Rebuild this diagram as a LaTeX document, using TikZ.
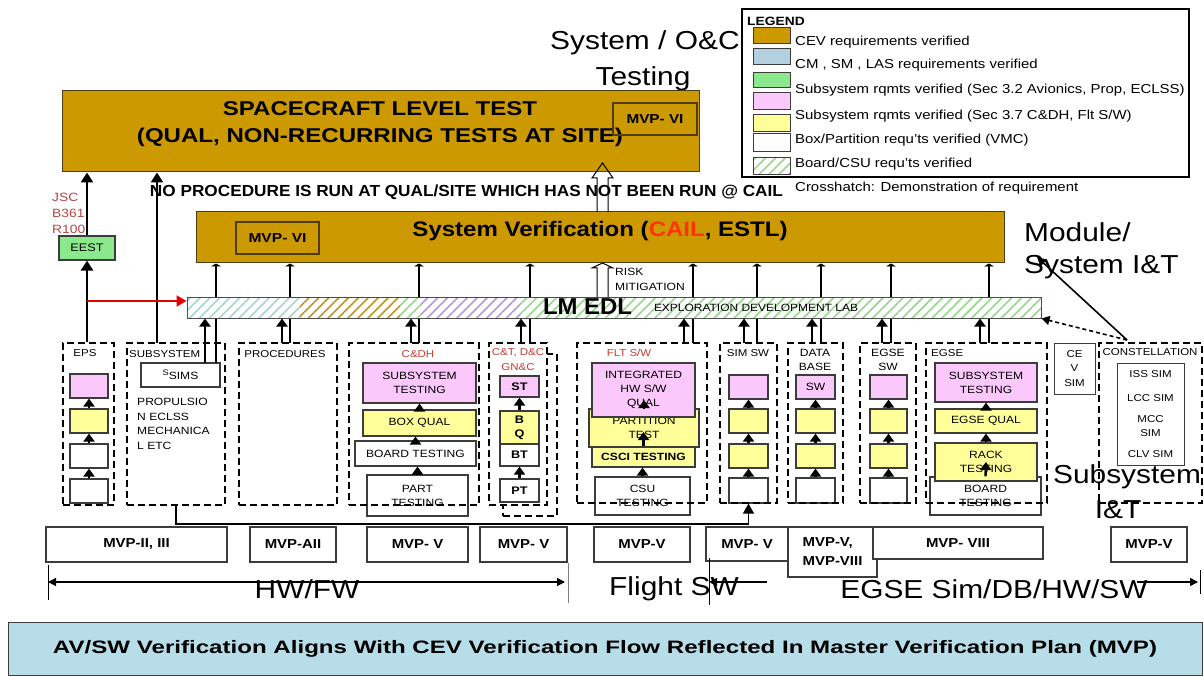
\documentclass[tikz,border=0pt]{standalone}
\usepackage{fontspec}
\setmainfont{Liberation Sans}[FakeStretch=1.15]
\usepackage{graphicx}
\usetikzlibrary{arrows.meta,patterns.meta}
\definecolor{gold}{RGB}{204,153,0}
\definecolor{goldedge}{RGB}{80,60,20}
\definecolor{lgblue}{RGB}{178,208,224}
\definecolor{lggreen}{RGB}{140,232,140}
\definecolor{pinkb}{RGB}{250,200,250}
\definecolor{yellb}{RGB}{255,255,153}
\definecolor{bandc}{RGB}{183,222,232}
\definecolor{redtxt}{RGB}{200,60,50}
\definecolor{cailred}{RGB}{255,51,0}
\definecolor{jscred}{RGB}{180,70,70}
\definecolor{hgreen}{RGB}{150,215,140}
\definecolor{hteal}{RGB}{165,215,200}
\definecolor{hgold}{RGB}{190,150,40}
\definecolor{hpurple}{RGB}{180,150,225}
\definecolor{edge}{RGB}{60,60,60}
\newcommand\fsz[1]{\fontsize{#1}{#1}\selectfont}
\newcommand\fsb[2]{\fontsize{#1}{#2}\selectfont}
\newcommand\fitw[2]{\resizebox{#1}{\height}{#2}}
\newcommand\bxn[6][]{\node[#1,minimum width={(#5-#3)*1pt},minimum height={(#6-#4)*1pt}] (#2) at ({(#3+#5)/2},{(#4+#6)/2})}
\tikzset{
 bx/.style={draw=edge,line width=1.2pt,inner sep=1pt,align=center,font=\fsb{10.5}{14}},
 pk/.style={bx,fill=pinkb},
 yl/.style={bx,fill=yellb},
 wt/.style={bx,fill=white},
 dbox/.style={draw=black,line width=2.6pt,dash pattern=on 7pt off 4pt,inner sep=0pt},
 gbox/.style={draw=goldedge,line width=1pt,fill=gold,inner sep=0pt},
 mvpin/.style={draw=goldedge,line width=1.2pt,font=\bfseries\fsz{13},inner sep=0pt},
 ar/.style={line width=2.4pt,-{Triangle[length=8pt,width=11pt]}},
 arb/.style={line width=2.8pt,-{Triangle[length=10pt,width=12pt]}},
 tee/.style={line width=1.8pt,-{Triangle[length=3pt,width=10pt]}},
 lbl/.style={font=\fsz{10},inner sep=0pt},
 txt/.style={inner sep=0pt},
 big/.style={inner sep=0pt,font=\fsz{26}},
 sw/.style={draw=edge,line width=1pt,inner sep=0pt},
 lt/.style={anchor=west,inner sep=0pt,font=\fsz{13}},
 mvp/.style={draw=edge,line width=1.2pt,fill=white,font=\bfseries\fsz{13},inner sep=1pt,align=center},
 hol/.style={line width=1pt,draw=black},
 hatch/.style={pattern={Lines[angle=45,distance=7pt,line width=1.6pt]},pattern color=#1},
 botar/.style={line width=1.5pt},
}
\begin{document}
\begin{tikzpicture}[x=1pt,y=-1pt]
\useasboundingbox (0,0) rectangle (1204,676);
\fill[white] (0,0) rectangle (1204,676);

% ---- titles ----
\node[big,anchor=west] (ttl1) at (550,43) {System / O\&C};
\node[big] (ttl2) at (643,79) {Testing};

% ---- spacecraft level test ----
\bxn[gbox]{sc}{62}{91}{699}{172} {};
\node[txt,font=\bfseries\fsz{20},align=center] (sct) at (380,124) {\fitw{314pt}{SPACECRAFT LEVEL TEST}\\[7pt]\fitw{486pt}{(QUAL, NON-RECURRING TESTS AT SITE)}};
\bxn[mvpin]{mvpa}{613}{103}{697}{135} {\fitw{57pt}{MVP- VI}};

% ---- legend ----
\bxn[draw=black,line width=1.5pt,fill=white]{leg}{742}{9}{1189}{177} {};
\node[txt,font=\bfseries\fsz{12},anchor=west] (legT) at (747,21) {LEGEND};
\bxn[sw,fill=gold]{sw1}{753}{28}{790}{44} {};
\bxn[sw,fill=lgblue]{sw2}{753}{49}{790}{65} {};
\bxn[sw,fill=lggreen]{sw3}{753}{73}{790}{88} {};
\bxn[sw,fill=pinkb]{sw4}{753}{93}{790}{110} {};
\bxn[sw,fill=yellb]{sw5}{753}{115}{790}{132} {};
\bxn[sw,fill=white]{sw6}{753}{134}{790}{152} {};
\bxn[sw,hatch=hgreen]{sw7}{753}{158}{790}{175} {};
\node[lt] (l1) at (795,42) {CEV requirements verified};
\node[lt] (l2) at (795,65) {CM , SM , LAS requirements verified};
\node[lt] (l3) at (795,90) {Subsystem rqmts verified (Sec 3.2 Avionics, Prop, ECLSS)};
\node[lt] (l4) at (795,116) {Subsystem rqmts verified (Sec 3.7 C\&DH, Flt S/W)};
\node[lt] (l5) at (795,140) {Box/Partition requ'ts verified (VMC)};
\node[lt] (l6) at (795,164) {Board/CSU requ'ts verified};
\node[lt] (l7) at (795,188) {Crosshatch: Demonstration of requirement};

% ---- note ----
\node[txt,font=\bfseries\fsz{16}] (nop) at (466.5,192) {\fitw{633pt}{NO PROCEDURE IS RUN AT QUAL/SITE WHICH HAS NOT BEEN RUN @ CAIL}};

% ---- system verification ----
\bxn[gbox]{sv}{196}{212}{1004}{263} {};
\node[txt,font=\bfseries\fsz{21}] (svt) at (600,231) {\fitw{375pt}{System Verification (\textcolor{cailred}{CAIL}, ESTL)}};
\bxn[mvpin]{mvpb}{236}{222}{319}{254} {\fitw{58pt}{MVP- VI}};

% ---- JSC / EEST ----
\node[txt,font=\fsz{12},text=jscred,anchor=west] (jsc1) at (52,197) {JSC};
\node[txt,font=\fsz{12},text=jscred,anchor=west] (jsc2) at (52,213) {B361};
\node[txt,font=\fsz{12},text=jscred,anchor=west] (jsc3) at (52,229) {R100};
\bxn[bx,fill=lggreen,font=\fsz{11}]{eest}{59}{236}{115}{260} {EEST};

% ---- EPS ----
\bxn[pk]{e1}{70}{374}{108}{398} {};
\bxn[yl]{e2}{70}{409}{108}{433} {};
\bxn[wt]{e3}{70}{444}{108}{468} {};
\bxn[wt]{e4}{70}{479}{108}{503} {};
\bxn[dbox]{eps}{63}{343}{114}{505} {};
\node[lbl] (epsL) at (85,353) {EPS};
\draw[ar] (e4.north) -- (e3.south);
\draw[ar] (e3.north) -- (e2.south);
\draw[ar] (e2.north) -- (e1.south);

% ---- SUBSYSTEM ----
\bxn[wt]{sims}{141}{363}{220}{387} {\raisebox{4pt}{\fsz{8}S}SIMS};
\node[txt,anchor=west,align=left,font=\fsb{10.5}{14.7}] (prop) at (137,424) {PROPULSIO\\N ECLSS\\MECHANICA\\L ETC};
\bxn[dbox]{subs}{127}{343}{225}{505} {};
\node[lbl,anchor=west] (subsL) at (129,354) {SUBSYSTEM};

% ---- PROCEDURES ----
\bxn[dbox]{proc}{239}{343}{337}{505} {};
\node[lbl] (procL) at (285,354) {PROCEDURES};

% ---- C&DH ----
\bxn[pk]{c1}{363}{363}{476}{403} {SUBSYSTEM\\TESTING};
\bxn[yl]{c2}{363}{410}{476}{436} {BOX QUAL};
\bxn[wt]{c3}{355}{441}{476}{466} {BOARD TESTING};
\bxn[wt]{c4}{367}{475}{468}{516} {PART\\TESTING};
\bxn[dbox]{cdh}{349}{343}{479}{505} {};
\node[lbl,text=redtxt] (cdhL) at (418,354) {C\&DH};
\draw[ar] (c4.north) -- (c4.north |- c3.south);
\draw[ar] (c3.north) -- (c3.north |- c2.south);
\draw[ar] (c2.north) -- (c1.south);

% ---- C&T ----
\bxn[dbox]{cts}{503}{354}{557}{516} {};
\bxn[fill=white]{ctbg}{489}{343}{547}{505} {};
\bxn[pk,font=\bfseries\fsz{11}]{k1}{500}{376}{539}{397} {ST};
\bxn[yl,font=\bfseries\fsb{11}{14}]{k2}{500}{411}{539}{444} {B\\Q};
\bxn[wt,font=\bfseries\fsz{11}]{k3}{500}{444}{539}{466} {BT};
\bxn[wt,font=\bfseries\fsz{11}]{k4}{500}{479}{539}{502} {PT};
\bxn[dbox]{ct}{489}{343}{547}{505} {};
\node[lbl,text=redtxt] (ctL1) at (518,353) {C\&T, D\&C};
\node[lbl,text=redtxt] (ctL2) at (518,367) {GN\&C};
\draw[ar] (k2.north) -- (k1.south);
\draw[ar] (k4.north) -- (k3.south);

% ---- FLT S/W ----
\bxn[yl,font=\bfseries\fsz{10.5}]{f3}{592}{447}{695}{467} {CSCI TESTING};
\bxn[yl]{f2}{589}{409}{699}{447} {PARTITION\\TEST};
\bxn[pk]{f1}{592}{363}{695}{417} {INTEGRATED\\HW S/W\\QUAL};
\bxn[wt]{f4}{595}{477}{690}{515} {CSU\\TESTING};
\bxn[dbox]{flt}{577}{343}{707}{503} {};
\node[lbl,text=redtxt] (fltL) at (629,353) {FLT S/W};
\coordinate (fp) at (643.5,432);
\coordinate (fq) at (644,400);
\draw[ar] (f4.north) -- (f4.north |- f3.south);
\draw[ar] (f3.north) -- (fp);
\draw[ar] (f2.north) -- (fq);

% ---- SIM SW ----
\bxn[pk]{s1}{729}{375}{768}{399} {};
\bxn[yl]{s2}{729}{409}{768}{433} {};
\bxn[yl]{s3}{729}{444}{768}{468} {};
\bxn[wt]{s4}{729}{478}{768}{503} {};
\bxn[dbox]{simsw}{720}{343}{777}{503} {};
\node[lbl] (simL) at (748,353) {SIM SW};
\draw[ar] (s4.north) -- (s3.south);
\draw[ar] (s3.north) -- (s2.south);
\draw[ar] (s2.north) -- (s1.south);

% ---- DATA BASE ----
\bxn[pk]{d1}{796}{375}{835}{399} {SW};
\bxn[yl]{d2}{796}{409}{835}{433} {};
\bxn[yl]{d3}{796}{444}{835}{468} {};
\bxn[wt]{d4}{796}{478}{835}{503} {};
\bxn[dbox]{db}{788}{343}{843}{503} {};
\node[lbl,align=center,font=\fsb{10.5}{14}] (dbL) at (815,360) {DATA\\BASE};
\draw[ar] (d4.north) -- (d3.south);
\draw[ar] (d3.north) -- (d2.south);
\draw[ar] (d2.north) -- (d1.south);

% ---- EGSE SW ----
\bxn[pk]{g1}{870}{375}{907}{399} {};
\bxn[yl]{g2}{870}{409}{907}{433} {};
\bxn[yl]{g3}{870}{444}{907}{468} {};
\bxn[wt]{g4}{870}{478}{907}{503} {};
\bxn[dbox]{egsw}{860}{343}{916}{503} {};
\node[lbl,align=center,font=\fsb{10.5}{14}] (egswL) at (888,360) {EGSE\\SW};
\draw[ar] (g4.north) -- (g3.south);
\draw[ar] (g3.north) -- (g2.south);
\draw[ar] (g2.north) -- (g1.south);

% ---- EGSE ----
\bxn[pk]{h1}{935}{363}{1037}{402} {SUBSYSTEM\\TESTING};
\bxn[yl]{h2}{935}{409}{1037}{433} {EGSE QUAL};
\bxn[wt]{h4}{930}{477}{1041}{515} {BOARD\\TESTING};
\bxn[yl]{h3}{935}{443}{1037}{481} {RACK\\TESTING};
\bxn[dbox]{egse}{926}{343}{1047}{503} {};
\node[lbl,anchor=west] (egseL) at (931,353) {EGSE};
\coordinate (hr) at (986,462);
\draw[ar] (h4.north) -- (hr);
\draw[ar] (h3.north) -- (h2.south);
\draw[ar] (h2.north) -- (h1.south);

% ---- CEV SIM / CONSTELLATION ----
\bxn[bx,line width=1pt,font=\fsb{10}{14.5}]{cev}{1054}{343}{1095}{394} {CE\\V\\SIM};
\bxn[bx,line width=1pt,font=\fsb{10}{14}]{csim}{1117}{363}{1184}{465} {ISS SIM\\[10pt]LCC SIM\\[7pt]MCC\\SIM\\[7pt]CLV SIM};
\bxn[dbox]{cons}{1099}{343}{1202}{503} {};
\node[lbl] (consL) at (1150,352) {CONSTELLATION};

% ---- lines up to system verification (behind LM EDL) ----
\coordinate (a1) at (205,363); \coordinate (b1) at (216,363);
\coordinate (a2) at (282,343); \coordinate (b2) at (290,343);
\coordinate (a3) at (411,343); \coordinate (b3) at (419,343);
\coordinate (a4) at (521,343); \coordinate (b4) at (530,343);
\coordinate (a5) at (684,343); \coordinate (b5) at (693,343);
\coordinate (a6) at (744,343); \coordinate (b6) at (757,343);
\coordinate (a7) at (812,343); \coordinate (b7) at (821,343);
\coordinate (a8) at (882,343); \coordinate (b8) at (891,343);
\coordinate (a9) at (980,343); \coordinate (b9) at (989,343);
\foreach \b in {b1,b2,b3,b4,b5,b6,b7,b8,b9} {\draw[tee] (\b) -- (\b |- sv.south);}

% ---- LM EDL bar ----
\fill[white] (187,297) rectangle (1041,318);
\fill[hatch=hteal] (187,297) rectangle (300,318);
\fill[hatch=hgold] (300,297) rectangle (400,318);
\fill[hatch=hgreen] (400,297) rectangle (421,318);
\fill[hatch=hpurple] (421,297) rectangle (520,318);
\fill[hatch=hgreen] (520,297) rectangle (1041,318);
\bxn[draw=gray!60!black,line width=1pt,inner sep=0pt]{edl}{187}{297}{1041}{318} {};
\node[txt,font=\bfseries\fsz{23}] (edlT) at (587.5,307) {\fitw{89pt}{LM EDL}};
\node[txt,font=\fsz{10.5}] (edlS) at (756,308) {\fitw{204pt}{EXPLORATION DEVELOPMENT LAB}};

% ---- arrows into LM EDL ----
\foreach \a in {a1,a2,a3,a4,a5,a6,a7,a8,a9} {\draw[ar] (\a) -- (\a |- edl.south);}

% ---- left arrows ----
\draw[arb] (eps.north -| eest.south) -- (eest.south);
\draw[arb] (eest.north) -- (eest.north |- sc.south);
\coordinate (sp) at (157,343);
\draw[arb] (sp) -- (sp |- sc.south);
\coordinate (rd) at (87,301);
\draw[red!90!black,line width=2.2pt,-{Triangle[length=10pt,width=11pt]}] (rd) -- (rd -| edl.west);

% ---- hollow arrows ----
\draw[hol] (597,212) -- (597,178) -- (592,178) -- (602.5,163) -- (613,178) -- (608,178) -- (608,212);
\draw[hol] (597,297) -- (597,268) -- (592,268) -- (602.5,263) -- (613,268) -- (608,268) -- (608,297);
\node[txt,anchor=west,font=\fsz{10.5}] (risk1) at (615,272) {RISK};
\node[txt,anchor=west,font=\fsz{10.5}] (risk2) at (615,287) {MITIGATION};

% ---- Module / System I&T ----
\node[big,anchor=west] (modA) at (1024,232) {Module/};
\node[big,anchor=west] (modB) at (1024,267) {System I\&T};
\coordinate (cst) at (1127,340);
\coordinate (modtip) at (1037,257);
\draw[line width=1.6pt,dash pattern=on 4pt off 3pt,-{Triangle[length=8pt,width=9pt]}] (cst) -- (edl.south east);
\draw[line width=1.6pt,-{Triangle[length=9pt,width=9pt]}] (cst) -- (modtip);

% ---- Subsystem I&T ----
\node[big] (subA) at (1127,477) {Subsystem};
\node[big] (subB) at (1118,510) {I\&T};

% ---- bottom connector ----
\coordinate (bc1) at (176,524);
\draw[line width=1.3pt,-{Triangle[length=10pt,width=11pt]}] (subs.south -| bc1) -- (bc1) -- (bc1 -| s4.south) -- (s4.south);

% ---- MVP boxes ----
\bxn[mvp]{m1}{46}{527}{227}{562} {MVP-II, III};
\bxn[mvp]{m2}{250}{527}{336}{562} {MVP-AII};
\bxn[mvp]{m3}{367}{527}{468}{562} {MVP- V};
\bxn[mvp]{m4}{480}{527}{567}{562} {MVP- V};
\bxn[mvp]{m5}{594}{527}{690}{562} {MVP-V};
\bxn[mvp]{m6}{706}{527}{788}{561} {MVP- V};
\bxn[mvp,align=left,font=\bfseries\fsb{13}{19}]{m7}{788}{527}{877}{577} {MVP-V,\\MVP-VIII};
\bxn[mvp]{m8}{873}{527}{1043}{559} {MVP- VIII};
\bxn[mvp]{m9}{1111}{527}{1187}{562} {MVP-V};

% ---- bottom span arrows ----
\coordinate (ha) at (48,582); \coordinate (hb) at (565,582);
\coordinate (hk1) at (48,565); \coordinate (hk2) at (48,600);
\coordinate (tk1) at (568,563); \coordinate (tk2) at (568,603);
\coordinate (fa) at (767,582); \coordinate (fb) at (709,582);
\coordinate (fk1) at (709,558); \coordinate (fk2) at (709,605);
\coordinate (ga) at (1137,582); \coordinate (gb) at (1198,582);
\coordinate (gk1) at (1200,570); \coordinate (gk2) at (1200,594);
\draw[botar,{Triangle[length=8pt,width=8pt]}-{Triangle[length=8pt,width=8pt]}] (ha) -- (hb);
\draw[line width=1pt] (hk1) -- (hk2);
\draw[line width=0.8pt,gray] (tk1) -- (tk2);
\draw[botar,-{Triangle[length=8pt,width=8pt]}] (fa) -- (fb);
\draw[line width=1pt] (fk1) -- (fk2);
\draw[botar,-{Triangle[length=8pt,width=8pt]}] (ga) -- (gb);
\draw[line width=1pt] (gk1) -- (gk2);
\node[big] (hw) at (307,589) {HW/FW};
\node[big] (fsw) at (674,589) {Flight SW};
\node[big] (egs) at (994,589) {EGSE Sim/DB/HW/SW};

% ---- bottom band ----
\bxn[draw=edge,line width=1pt,fill=bandc,font=\bfseries\fsz{18},inner sep=0pt]{band}{8}{622}{1202}{675} {\fitw{1104pt}{AV/SW Verification Aligns With CEV Verification Flow Reflected In Master Verification Plan (MVP)}};
\end{tikzpicture}
\end{document}
